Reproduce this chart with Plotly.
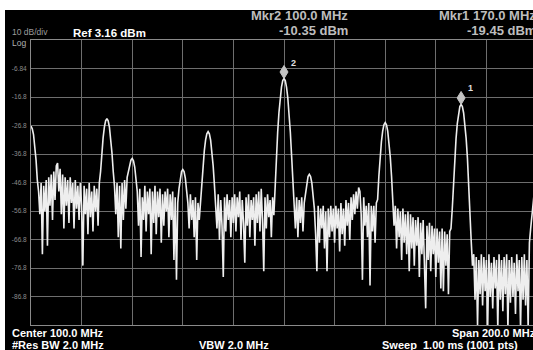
import plotly.graph_objects as go

# ---------------- data ----------------
freq_step_mhz = 0.5   # trace sample spacing, start 0 MHz
trace_dbm_000 = [-27, -28, -30, -34, -39, -46, -50, -58, -47, -72, -48, -57, -46, -69, -45, -55, -44, -60, -43, -53]
trace_dbm_010 = [-41, -40, -50, -42, -58, -44, -63, -45, -55, -46, -61, -45, -54, -47, -63, -46, -56, -48, -60, -47]
trace_dbm_020 = [-55, -76, -48, -58, -49, -65, -47, -59, -50, -64, -48, -57, -49, -62, -47, -43, -36.4, -31.2, -27.4, -25.2]
trace_dbm_030 = [-24.4, -25.2, -27.4, -31.2, -36.4, -43, -48, -58, -47, -66, -48, -70, -47, -60, -46, -56, -45, -43, -41, -39]
trace_dbm_040 = [-38.4, -39.2, -41.4, -45, -50, -62, -49, -73, -52, -60, -48, -64, -50, -58, -49, -72, -50, -61, -48, -65]
trace_dbm_050 = [-50, -59, -49, -68, -51, -62, -50, -57, -49, -66, -51, -60, -50, -74, -52, -81, -54, -49, -45.3, -43]
trace_dbm_060 = [-42.3, -43, -45.3, -49, -54, -63, -51, -60, -53, -66, -52, -74, -54, -60, -53, -47.75, -41, -35.75, -32, -29.75]
trace_dbm_070 = [-29, -29.75, -32, -35.75, -41, -47.75, -54, -63, -51, -67, -53, -62, -80, -52, -64, -51, -60, -53, -66, -52]
trace_dbm_080 = [-61, -51, -64, -52, -59, -50, -67, -53, -61, -75, -52, -62, -51, -66, -53, -60, -52, -69, -51, -61]
trace_dbm_090 = [-50, -64, -49, -60, -78, -52, -63, -51, -59, -53, -66, -52, -58.35, -47.1, -37.35, -29.1, -22.35, -17.1, -13.35, -11.1]
trace_dbm_100 = [-10.35, -11.1, -13.35, -17.1, -22.35, -29.1, -37.35, -47.1, -56, -63, -52, -66, -53, -61, -52, -64, -54, -50.75, -47, -44.75]
trace_dbm_110 = [-44, -44.75, -47, -50.75, -56, -65, -78, -55, -68, -56, -63, -55, -70, -57, -78, -56, -66, -55, -64, -56]
trace_dbm_120 = [-68, -55, -63, -56, -71, -54, -65, -56, -69, -53, -62, -54, -67, -52, -60, -51, -58, -50, -56, -48.6]
trace_dbm_130 = [-50, -58, -81, -52, -62, -55, -66, -54, -83, -55, -64, -55, -68, -54, -52.8, -44.55, -37.8, -32.55, -28.8, -26.55]
trace_dbm_140 = [-25.8, -26.55, -28.8, -32.55, -37.8, -44.55, -52.8, -62, -55, -70, -56, -66, -57, -74, -56, -68, -58, -72, -57, -78]
trace_dbm_150 = [-58, -70, -59, -76, -60, -69, -59, -80, -61, -72, -60, -76, -91, -62, -74, -61, -78, -62, -72, -63]
trace_dbm_160 = [-80, -63, -75, -64, -84, -63, -85, -64, -76, -65, -86, -64, -63, -56.2, -46.45, -38.2, -31.45, -26.2, -22.45, -20.2]
trace_dbm_170 = [-19.45, -20.2, -22.45, -26.2, -31.45, -38.2, -46.45, -56.2, -67.45, -76, -72, -88, -73, -97, -74, -86, -72, -90, -73, -85]
trace_dbm_180 = [-74, -98, -72, -87, -75, -91, -73, -84, -74, -98, -72, -88, -74, -92, -73, -86, -72, -98, -74, -89]
trace_dbm_190 = [-73, -87, -75, -93, -72, -85, -74, -98, -73, -88, -72, -90, -74, -98, -68, -63, -58, -53, -48, -45]
trace_dbm_200 = [-44]

mkr_freq_mhz = [170.0, 100.0]
mkr_level_dbm = [-19.45, -10.35]
mkr_label = ["1", "2"]

ref_level_dbm = 3.16
db_per_div = 10
ytick_vals = [-6.84, -16.84, -26.84, -36.84, -46.84, -56.84, -66.84, -76.84, -86.84]
ytick_text = ["-6.84", "-16.8", "-26.8", "-36.8", "-46.8", "-56.8", "-66.8", "-76.8", "-86.8"]
center_mhz = 100.0
span_mhz = 200.0

# ---------------- assemble ----------------
trace_dbm = (trace_dbm_000 + trace_dbm_010 + trace_dbm_020 + trace_dbm_030 + trace_dbm_040 +
             trace_dbm_050 + trace_dbm_060 + trace_dbm_070 + trace_dbm_080 + trace_dbm_090 +
             trace_dbm_100 + trace_dbm_110 + trace_dbm_120 + trace_dbm_130 + trace_dbm_140 +
             trace_dbm_150 + trace_dbm_160 + trace_dbm_170 + trace_dbm_180 + trace_dbm_190 +
             trace_dbm_200)
trace_freq = [i * freq_step_mhz for i in range(len(trace_dbm))]

W, H = 533, 350
L, T, B, R = 31, 40, 25, 0
PW, PH = W - L - R, H - T - B
px_per_mhz = 2.53
x_max = PW / px_per_mhz
start_mhz = center_mhz - span_mhz / 2
bottom_db = ref_level_dbm - 10 * db_per_div


def px(x):
    return (x - L) / PW


def py(y):
    return (H - B - y) / PH


fig = go.Figure()
fig.add_trace(go.Scatter(x=trace_freq, y=trace_dbm, mode="lines",
                         line=dict(color="#eeeeee", width=1.6), hoverinfo="skip",
                         showlegend=False))

GRID = "#6e6e6e"
FONT = "Liberation Sans, Arial, sans-serif"

shapes = []
annotations = []
# white frame at top and left of the screenshot
shapes.append(dict(type="rect", xref="paper", yref="paper", x0=px(-2), x1=px(W + 2),
                   y0=py(10), y1=py(-2), fillcolor="white", line_width=0, layer="above"))
shapes.append(dict(type="rect", xref="paper", yref="paper", x0=px(-2), x1=px(5),
                   y0=py(H + 2), y1=py(-2), fillcolor="white", line_width=0, layer="above"))

# marker diamonds + labels
for f, lv, lab in zip(mkr_freq_mhz, mkr_level_dbm, mkr_label):
    shapes.append(dict(type="path", xref="x", yref="y", xsizemode="pixel", ysizemode="pixel",
                       xanchor=f, yanchor=lv, path="M0,0 L4,6.5 L0,13 L-4,6.5 Z",
                       fillcolor="#c4c4c4", line=dict(color="#c4c4c4", width=1), layer="above"))
    annotations.append(dict(x=f, y=lv, xref="x", yref="y", text="<b>%s</b>" % lab,
                            showarrow=False, xanchor="left", yanchor="middle",
                            xshift=5, yshift=16, font=dict(family=FONT, size=9, color="#e0e0e0")))


def txt(x, y, s, size, color, anchor="left", bold=True):
    annotations.append(dict(x=px(x), y=py(y), xref="paper", yref="paper",
                            text=("<b>%s</b>" % s) if bold else s, showarrow=False,
                            xanchor=anchor, yanchor="middle",
                            font=dict(family=FONT, size=size, color=color)))


txt(10, 32.5, "%d dB/div" % db_per_div, 8.5, "#9c9c9c", bold=False)
txt(10, 42.5, "Log", 8.5, "#b0b0b0", bold=False)
txt(71, 33, "Ref %.2f dBm" % ref_level_dbm, 11.5, "#ffffff")
txt(350, 15.5, "Mkr2 %.1f MHz" % mkr_freq_mhz[1], 13, "#bdbdbd", anchor="right")
txt(350, 30.5, "%.2f dBm" % mkr_level_dbm[1], 13, "#bdbdbd", anchor="right")
txt(538, 15.5, "Mkr1 %.1f MHz" % mkr_freq_mhz[0], 13, "#bdbdbd", anchor="right")
txt(538, 30.5, "%.2f dBm" % mkr_level_dbm[0], 13, "#bdbdbd", anchor="right")
txt(10, 333, "Center %.1f MHz" % center_mhz, 11, "#ffffff")
txt(10, 345, "#Res BW 2.0 MHz", 11, "#ffffff")
txt(197, 345, "VBW 2.0 MHz", 11, "#ffffff")
txt(538, 333, "Span %.1f MHz" % span_mhz, 11, "#ffffff", anchor="right")
txt(380, 345, "Sweep&nbsp;&nbsp;1.00 ms (1001 pts)", 11, "#ffffff")

fig.update_layout(
    width=W, height=H,
    margin=dict(l=L, r=R, t=T, b=B, pad=0),
    paper_bgcolor="black", plot_bgcolor="black",
    showlegend=False,
    shapes=shapes, annotations=annotations,
    xaxis=dict(range=[start_mhz, start_mhz + x_max], tick0=start_mhz, dtick=20,
               showgrid=True, gridcolor=GRID, gridwidth=1, zeroline=False,
               showticklabels=False, ticks="", showline=True, linecolor="#8a8a8a",
               linewidth=1, mirror=True, fixedrange=True),
    yaxis=dict(range=[bottom_db, ref_level_dbm], tickmode="array", tickvals=ytick_vals,
               ticktext=ytick_text, showgrid=True, gridcolor=GRID, gridwidth=1,
               zeroline=False, ticks="", showline=True, linecolor="#8a8a8a", linewidth=1,
               tickfont=dict(family=FONT, size=6.5, color="#8c8c8c"), ticklabelstandoff=2,
               fixedrange=True),
)

fig.write_html("out.html", config={"displayModeBar": False, "staticPlot": True},
               post_script="document.body.style.margin='0';document.body.style.padding='0';"
                           "document.documentElement.style.overflow='hidden';")
